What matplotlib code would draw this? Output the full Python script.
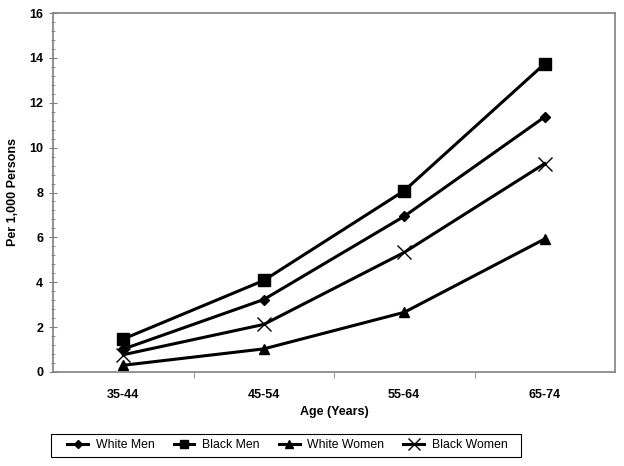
import matplotlib
matplotlib.use("Agg")
import matplotlib.pyplot as plt
from matplotlib.ticker import MultipleLocator, FixedLocator
from matplotlib.patches import Rectangle

plt.rcParams['font.family'] = ['Liberation Sans', 'DejaVu Sans']

categories = ["35-44", "45-54", "55-64", "65-74"]
white_men = [1.02, 3.23, 6.94, 11.37]
black_men = [1.47, 4.08, 8.08, 13.74]
white_women = [0.30, 1.03, 2.66, 5.93]
black_women = [0.77, 2.12, 5.33, 9.29]

W, H = 624, 466
fig = plt.figure(figsize=(W/100, H/100), dpi=100)
ax = fig.add_axes([53/W, 1-372/H, (615-53)/W, (372-13)/H])

x = list(range(len(categories)))
lw = 2.2
ax.plot(x, white_men, color='black', lw=lw, marker='D', ms=5.5, label='White Men')
ax.plot(x, black_men, color='black', lw=lw, marker='s', ms=8, label='Black Men')
ax.plot(x, white_women, color='black', lw=lw, marker='^', ms=7.5, label='White Women')
ax.plot(x, black_women, color='black', lw=lw, marker='x', ms=10, mew=1.0, label='Black Women')

ax.set_xlim(-0.5, 3.5)
ax.set_ylim(0, 16)
ax.yaxis.set_major_locator(MultipleLocator(2))
ax.yaxis.set_minor_locator(MultipleLocator(0.4))
ax.set_xticks(x)
ax.set_xticklabels(categories)
ax.xaxis.set_minor_locator(FixedLocator([0.5, 1.5, 2.5]))
ax.tick_params(axis='x', which='major', length=0, pad=12, labelsize=9)
ax.tick_params(axis='x', which='minor', length=4, direction='out', color='#808080')
ax.tick_params(axis='y', which='major', length=6, direction='inout', color='#808080', labelsize=9, pad=4)
ax.tick_params(axis='y', which='minor', length=3, direction='inout', color='#808080')
for lab in ax.get_xticklabels() + ax.get_yticklabels():
    lab.set_fontweight('bold')

for s in ax.spines.values():
    s.set_color('#808080')
    s.set_linewidth(1.2)

fig.text(13/W, 1-191.5/H, 'Per 1,000 Persons', rotation=90, ha='center', va='center',
         fontsize=9, fontweight='bold')
fig.text(334/W, 1-412/H, 'Age (Years)', ha='center', va='center',
         fontsize=9, fontweight='bold')

fig.patches.append(Rectangle((51/W, 1-457/H), (521-51)/W, 23/H, transform=fig.transFigure,
                             fill=False, edgecolor='black', lw=0.8))
handles, labels = ax.get_legend_handles_labels()
leg = fig.legend(handles, labels, loc='center', bbox_to_anchor=(287.5/W, 1-445.5/H),
                 ncol=4, frameon=False, fontsize=8.8, markerscale=0.8,
                 handlelength=1.7, handletextpad=0.65, columnspacing=1.55, borderpad=0.0)

fig.savefig('out.png', dpi=100)
